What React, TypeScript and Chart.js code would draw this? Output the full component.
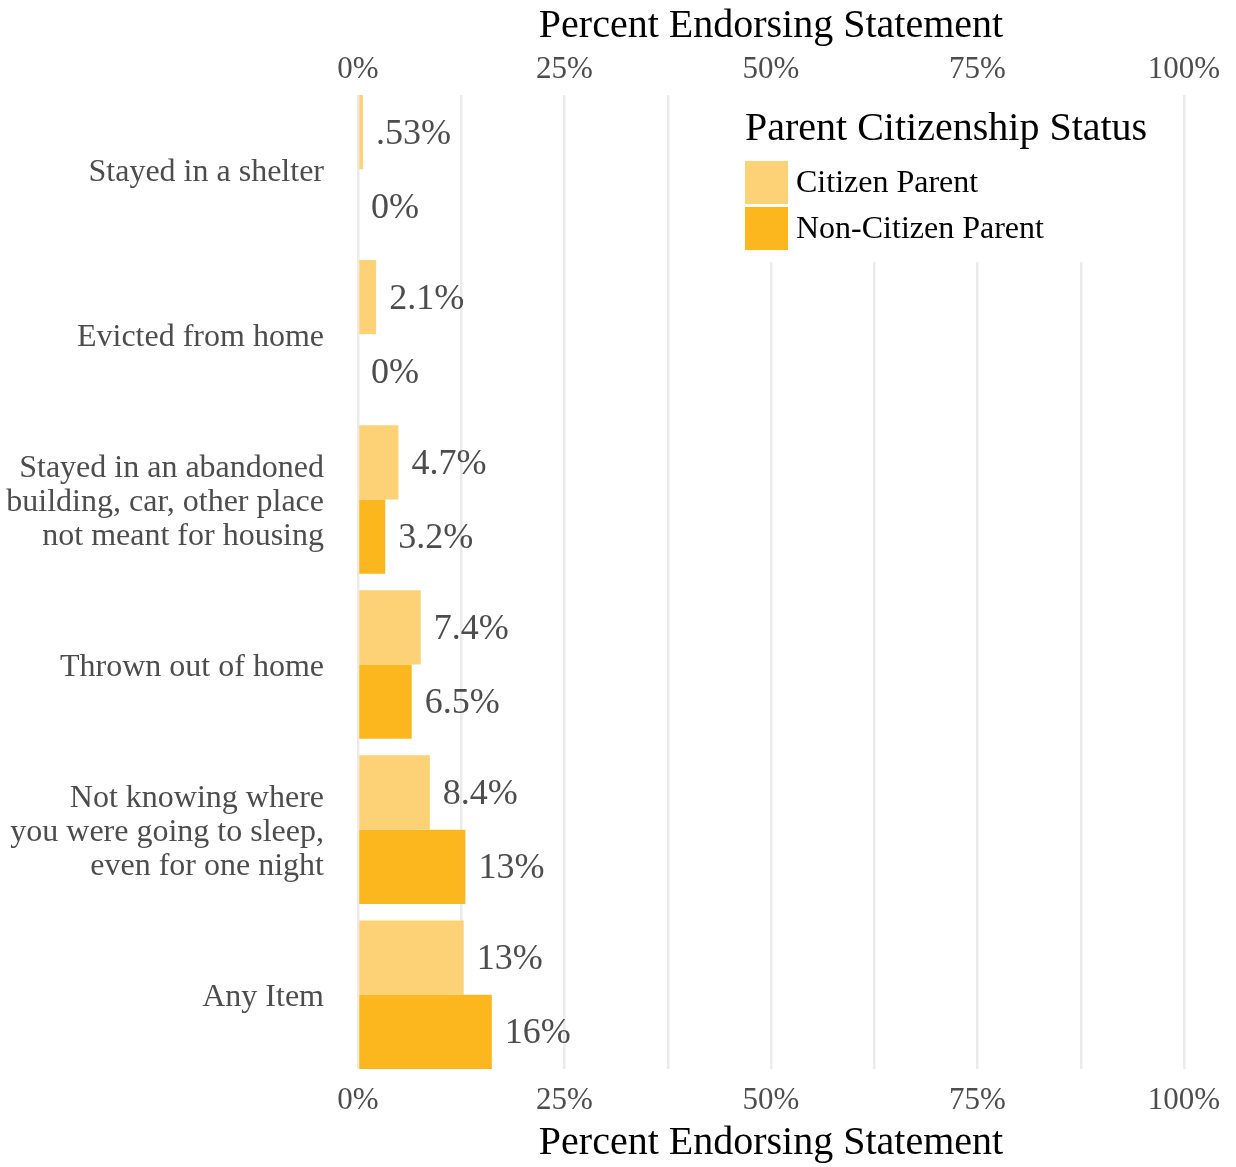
import React, { useEffect, useRef } from 'react';
import { Chart, registerables } from 'chart.js';

Chart.register(...registerables);

// ---- Data ----
const categories = [
  'Stayed in a shelter',
  'Evicted from home',
  'Stayed in an abandoned\nbuilding, car, other place\nnot meant for housing',
  'Thrown out of home',
  'Not knowing where\nyou were going to sleep,\neven for one night',
  'Any Item',
];
const seriesNames = ['Citizen Parent', 'Non-Citizen Parent'];
const citizenValues = [0.6, 2.2, 4.9, 7.6, 8.7, 12.8];
const nonCitizenValues = [0, 0, 3.3, 6.5, 13.0, 16.2];
const citizenLabels = ['.53%', '2.1%', '4.7%', '7.4%', '8.4%', '13%'];
const nonCitizenLabels = ['0%', '0%', '3.2%', '6.5%', '13%', '16%'];
const xTickValues = [0, 25, 50, 75, 100];
const axisTitle = 'Percent Endorsing Statement';
const legendTitle = 'Parent Citizenship Status';

const COLORS = ['#FDD277', '#FDB71E'];
const FONT = '"Liberation Serif", "Times New Roman", serif';
const GREY = '#4D4D4D';

const valueLabelPlugin = {
  id: 'valueLabels',
  afterDatasetsDraw(chart: any) {
    const ctx = chart.ctx;
    const labelSets = [citizenLabels, nonCitizenLabels];
    ctx.save();
    ctx.font = `36px ${FONT}`;
    ctx.fillStyle = GREY;
    ctx.textAlign = 'left';
    ctx.textBaseline = 'middle';
    chart.data.datasets.forEach((_: any, di: number) => {
      const meta = chart.getDatasetMeta(di);
      meta.data.forEach((el: any, i: number) => {
        ctx.fillText(labelSets[di][i], el.x + 13, el.y + 2);
      });
    });
    ctx.restore();
  },
};

const legendPlugin = {
  id: 'insideLegend',
  beforeDatasetsDraw(chart: any) {
    const ctx = chart.ctx;
    const area = chart.chartArea;
    const x0 = area.right - 452;
    const y0 = area.top - 5;
    ctx.save();
    ctx.fillStyle = '#FFFFFF';
    ctx.fillRect(x0, y0, 446, 172);
    ctx.fillStyle = '#000000';
    ctx.font = `40px ${FONT}`;
    ctx.textAlign = 'left';
    ctx.textBaseline = 'alphabetic';
    const lx = x0 + 13;
    ctx.fillText(legendTitle, lx, area.top + 45);
    ctx.font = `32px ${FONT}`;
    seriesNames.forEach((name, i) => {
      const by = area.top + 66 + i * 46;
      ctx.fillStyle = COLORS[i];
      ctx.fillRect(lx, by, 43, 43);
      ctx.fillStyle = '#000000';
      ctx.fillText(name, lx + 51, by + 31);
    });
    ctx.restore();
  },
};

export default function App() {
  const canvasRef = useRef<HTMLCanvasElement | null>(null);

  useEffect(() => {
    document.body.style.margin = '0';
    const canvas = canvasRef.current;
    if (!canvas) return;

    const tickCallback = (v: any) =>
      xTickValues.includes(Number(v)) ? `${v}%` : '';

    const chart = new Chart(canvas, {
      type: 'bar',
      data: {
        datasets: [
          {
            label: seriesNames[0],
            data: citizenValues.map((v, i) => ({ x: v, y: i })),
            backgroundColor: COLORS[0],
            borderWidth: 0,
          },
          {
            label: seriesNames[1],
            data: nonCitizenValues.map((v, i) => ({ x: v, y: i })),
            backgroundColor: COLORS[1],
            borderWidth: 0,
          },
        ],
      },
      options: {
        indexAxis: 'y',
        animation: false,
        responsive: false,
        maintainAspectRatio: false,
        layout: { padding: { left: 0, right: 52, top: 0, bottom: 0 } },
        datasets: {
          bar: { categoryPercentage: 0.9, barPercentage: 1.0 },
        },
        plugins: {
          legend: { display: false },
          tooltip: { enabled: false },
        },
        scales: {
          y: {
            type: 'linear',
            reverse: true,
            offset: false,
            min: -0.45,
            max: 5.45,
            grid: { display: false, drawTicks: false, offset: false },
            border: { display: false },
            ticks: {
              stepSize: 1,
              includeBounds: false,
              autoSkip: false,
              padding: 34,
              labelOffset: 3,
              color: GREY,
              font: { family: FONT, size: 32, lineHeight: 1.06 },
              callback: (v: any) => {
                const n = Number(v);
                return Number.isInteger(n) && categories[n] !== undefined
                  ? categories[n].split('\n')
                  : '';
              },
            },
            afterFit: (s: any) => {
              s.width = 358;
            },
          },
          x: {
            type: 'linear',
            position: 'bottom',
            min: 0,
            max: 100,
            grid: { color: '#EBEBEB', lineWidth: 2.5, drawTicks: false },
            border: { display: false },
            ticks: {
              stepSize: 12.5,
              autoSkip: false,
              maxRotation: 0,
              padding: 13,
              color: GREY,
              font: { family: FONT, size: 31 },
              callback: tickCallback,
            },
            title: {
              display: true,
              text: axisTitle,
              color: '#000000',
              font: { family: FONT, size: 40 },
              padding: { top: 0, bottom: 0 },
            },
            afterFit: (s: any) => {
              s.height = 98;
            },
          },
          x2: {
            type: 'linear',
            position: 'top',
            min: 0,
            max: 100,
            grid: { display: false, drawTicks: false },
            border: { display: false },
            ticks: {
              stepSize: 12.5,
              autoSkip: false,
              maxRotation: 0,
              padding: 7,
              color: GREY,
              font: { family: FONT, size: 31 },
              callback: tickCallback,
            },
            title: {
              display: true,
              text: axisTitle,
              color: '#000000',
              font: { family: FONT, size: 40 },
              padding: { top: 2, bottom: 0 },
            },
            afterFit: (s: any) => {
              s.height = 95;
            },
          },
        },
      } as any,
      plugins: [legendPlugin, valueLabelPlugin],
    });

    return () => {
      chart.destroy();
    };
  }, []);

  return (
    <div style={{ width: 1236, height: 1167, background: '#FFFFFF' }}>
      <canvas
        ref={canvasRef}
        width={1236}
        height={1167}
        style={{ display: 'block', width: 1236, height: 1167 }}
      />
    </div>
  );
}
